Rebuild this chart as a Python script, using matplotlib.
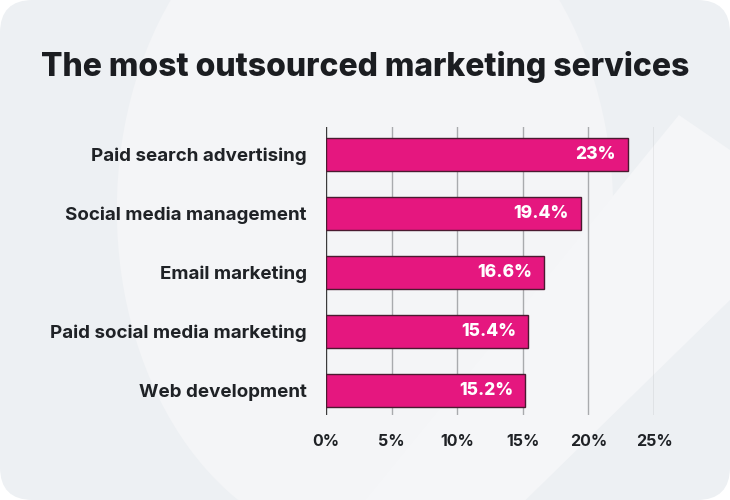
import matplotlib.pyplot as plt
from matplotlib.patches import FancyBboxPatch, Polygon, Ellipse

# data
services = ["Paid search advertising", "Social media management", "Email marketing",
            "Paid social media marketing", "Web development"]
shares = [23, 19.4, 16.6, 15.4, 15.2]
ticks = [0, 5, 10, 15, 20, 25]

plt.rcParams['font.family'] = ['Inter', 'DejaVu Sans']

fig = plt.figure(figsize=(7.3, 5), dpi=100)
fig.patch.set_facecolor('white')

# card background with rounded corners
card = FancyBboxPatch((0.0, 0.0), 1.0, 1.0, boxstyle="round,pad=0,rounding_size=0.045",
                      transform=fig.transFigure, facecolor='#edf0f3', edgecolor='none',
                      mutation_aspect=730 / 500, zorder=-3)
fig.patches.append(card)

# soft decorative shapes
blob = Ellipse((0.50, 0.58), 0.68, 1.35, transform=fig.transFigure,
               facecolor='#f4f5f7', edgecolor='none', zorder=-2)
blob.set_clip_path(card)
fig.patches.append(blob)
stripe = Polygon([[0.93, 0.77], [1.0, 0.70], [1.0, 0.40], [0.72, 0.0], [0.50, 0.0]],
                 closed=True, transform=fig.transFigure, facecolor='#f5f6f8', edgecolor='none',
                 zorder=-2)
fig.patches.append(stripe)

fig.text(0.5, 0.866, "The most outsourced marketing services", ha='center', va='center',
         fontsize=23, fontweight='heavy', color='#1b1d21')

ax = fig.add_axes([0.4466, 0.17, 0.4493, 0.576])
ax.set_facecolor('none')

pos = list(range(len(services) - 1, -1, -1))
ax.barh(pos, shares, height=0.56, color='#e5177f', edgecolor='#4a1a30', linewidth=1.0, zorder=3)

for p, v in zip(pos, shares):
    ax.text(v - 0.9, p, f"{v:g}%", ha='right', va='center', color='white',
            fontsize=12.5, fontweight='heavy', zorder=4)

ax.set_xlim(0, 25)
ax.set_ylim(-0.41, 4.466)
ax.set_xticks(ticks)
ax.set_xticklabels([f"{t}%" for t in ticks])
ax.set_yticks(pos)
ax.set_yticklabels(services)

for t in ticks:
    ax.axvline(t, color='#3b3b3b' if t == 0 else '#a9abae', linewidth=1.0, zorder=1)

for s in ax.spines.values():
    s.set_visible(False)
ax.tick_params(axis='both', length=0)
ax.tick_params(axis='y', pad=14, labelsize=13.5, labelcolor='#1f2226')
ax.tick_params(axis='x', pad=14, labelsize=11.5, labelcolor='#1f2226')
for lab in ax.get_yticklabels() + ax.get_xticklabels():
    lab.set_fontweight('bold')

fig.savefig("out.png", dpi=100)
